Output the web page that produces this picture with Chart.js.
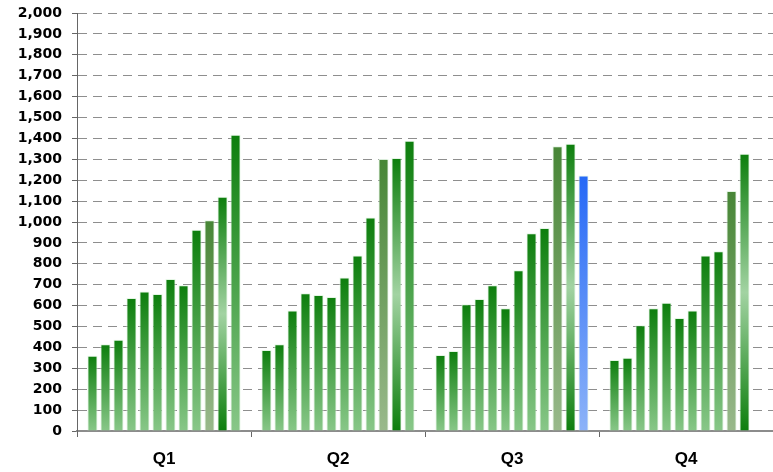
<!DOCTYPE html>
<html>
<head>
<meta charset="utf-8">
<script src="https://cdn.jsdelivr.net/npm/chart.js@4/dist/chart.umd.min.js"></script>
<style>
html, body { margin: 0; padding: 0; background: #fff; }
</style>
</head>
<body>
<canvas id="quarter_chart" width="773" height="472"></canvas>
<script>
var quarters = ["Q1", "Q2", "Q3", "Q4"];
// twelve bars per quarter, left to right (Q4 has no twelfth bar)
var q1 = [360, 415, 437, 636, 668, 655, 727, 697, 963, 1008, 1121, 1418];
var q2 = [388, 415, 577, 659, 651, 641, 735, 840, 1021, 1301, 1306, 1389];
var q3 = [364, 383, 606, 632, 697, 587, 769, 946, 971, 1362, 1375, 1223];
var q4 = [340, 351, 506, 587, 614, 541, 577, 840, 860, 1148, 1327, null];
var yMax = 2000;
var yStep = 100;

var greenStops = [[0, "#0d7e0d"], [1, "#88c788"]];
var oliveStops = [[0, "#478636"], [1, "#99b98b"]];
var midStops = [[0, "#0d7e0d"], [0.5, "#a2d3a2"], [1, "#0d7e0d"]];
var blueStops = [[0, "#2569f6"], [1, "#8cb3f8"]];

function pickStops(ds, idx) {
    if (ds == 9) return oliveStops;
    if (ds == 10) return midStops;
    if (ds == 11 && idx == 2) return blueStops;
    return greenStops;
}

function barFill(c) {
    var stops = pickStops(c.datasetIndex, c.dataIndex);
    var chart = c.chart;
    if (!chart.chartArea || c.raw == null) return stops[0][1];
    var y = chart.scales.y;
    var top = y.getPixelForValue(c.raw);
    var base = y.getPixelForValue(0);
    var g = chart.ctx.createLinearGradient(0, top, 0, base);
    stops.forEach(function(s) { g.addColorStop(s[0], s[1]); });
    return g;
}

var rows = [q1, q2, q3, q4];
var datasets = [];
for (var i = 0; i < 12; i++) {
    datasets.push({
        label: "s" + (i + 1),
        data: rows.map(function(r) { return r[i]; }),
        backgroundColor: barFill,
        borderColor: "rgba(225,245,225,0.9)",
        borderWidth: 1
    });
}

new Chart(document.getElementById("quarter_chart"), {
    type: "bar",
    data: { labels: quarters, datasets: datasets },
    options: {
        responsive: false,
        animation: false,
        devicePixelRatio: 1,
        layout: { padding: { top: 13, right: 0, bottom: 0, left: 0 } },
        plugins: { legend: { display: false }, tooltip: { enabled: false } },
        datasets: { bar: { categoryPercentage: 0.897, barPercentage: 0.78 } },
        scales: {
            x: {
                grid: { drawOnChartArea: false, tickLength: 6, tickColor: "#666", offset: true },
                border: { color: "#8c8c8c", width: 2 },
                ticks: { color: "#000", padding: 12,
                         font: { family: "'Liberation Sans', Arial, sans-serif", weight: "bold", size: 17 } },
                afterFit: function(s) { s.height = 41; }
            },
            y: {
                min: 0,
                max: yMax,
                grid: { color: "#8e8e8e", tickLength: 5, tickColor: "#666" },
                border: { color: "#666", dash: [9, 6] },
                ticks: { stepSize: yStep, autoSkip: false, color: "#000", padding: 10,
                         font: { family: "'DejaVu Sans', sans-serif", weight: "bold", size: 14 } },
                afterFit: function(s) {
                    s.width = 77;
                    s.paddingTop = 0;
                    s.paddingBottom = 0;
                }
            }
        }
    }
});
</script>
</body>
</html>
